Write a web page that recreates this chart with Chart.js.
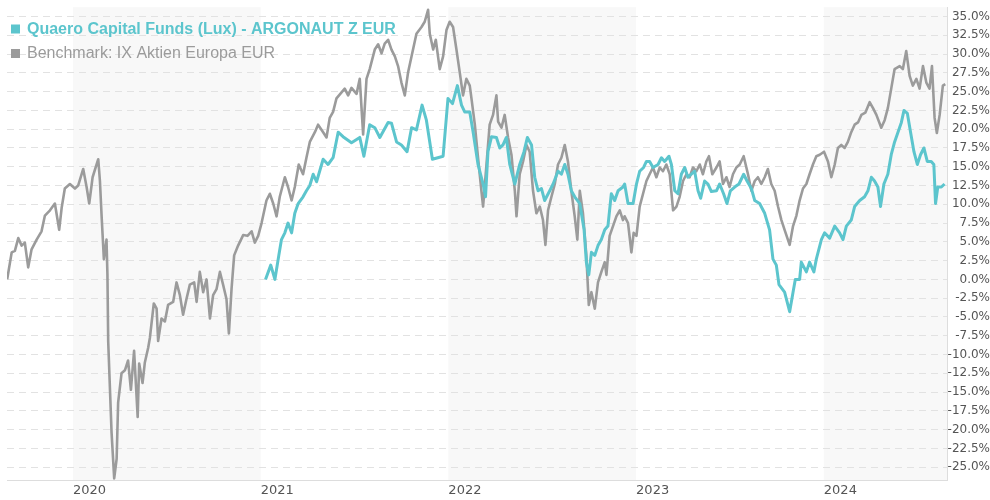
<!DOCTYPE html>
<html>
<head>
<meta charset="utf-8">
<script src="https://cdn.jsdelivr.net/npm/chart.js@4.4.1/dist/chart.umd.min.js"></script>
<style>
  html, body { margin: 0; padding: 0; background: #fff; }
  #wrap { width: 990px; height: 500px; }
</style>
</head>
<body>
<div id="wrap"><canvas id="grafico" width="990" height="500"></canvas></div>
<script>
// Benchmark: datas em anos decimais e retorno acumulado (%)
const benchDates = [
  2019.650, 2019.674, 2019.691, 2019.709, 2019.727, 2019.744, 2019.762, 2019.780, 2019.807, 2019.833,
  2019.851, 2019.878, 2019.904, 2019.927, 2019.940, 2019.957, 2019.984, 2020.011, 2020.028, 2020.055,
  2020.073, 2020.087, 2020.105, 2020.135, 2020.144, 2020.153, 2020.165, 2020.179, 2020.184, 2020.188,
  2020.206, 2020.220, 2020.233, 2020.241, 2020.259, 2020.277, 2020.294, 2020.309, 2020.326, 2020.345,
  2020.353, 2020.371, 2020.383, 2020.401, 2020.410, 2020.431, 2020.446, 2020.454, 2020.472, 2020.490,
  2020.507, 2020.534, 2020.552, 2020.570, 2020.587, 2020.605, 2020.623, 2020.646, 2020.659, 2020.676,
  2020.694, 2020.712, 2020.730, 2020.747, 2020.765, 2020.783, 2020.800, 2020.818, 2020.831, 2020.845,
  2020.859, 2020.880, 2020.907, 2020.930, 2020.952, 2020.969, 2020.987, 2021.005, 2021.031, 2021.049,
  2021.067, 2021.085, 2021.102, 2021.129, 2021.146, 2021.165, 2021.182, 2021.203, 2021.226, 2021.244,
  2021.262, 2021.289, 2021.306, 2021.333, 2021.351, 2021.368, 2021.386, 2021.404, 2021.431, 2021.448,
  2021.466, 2021.484, 2021.511, 2021.528, 2021.546, 2021.564, 2021.581, 2021.608, 2021.626, 2021.644,
  2021.661, 2021.679, 2021.697, 2021.715, 2021.732, 2021.750, 2021.768, 2021.785, 2021.804, 2021.830,
  2021.857, 2021.874, 2021.892, 2021.901, 2021.919, 2021.933, 2021.954, 2021.972, 2021.990, 2022.007,
  2022.025, 2022.043, 2022.061, 2022.078, 2022.096, 2022.114, 2022.123, 2022.141, 2022.158, 2022.176,
  2022.185, 2022.203, 2022.220, 2022.238, 2022.256, 2022.265, 2022.283, 2022.300, 2022.318, 2022.336,
  2022.354, 2022.363, 2022.380, 2022.398, 2022.416, 2022.433, 2022.451, 2022.469, 2022.487, 2022.504,
  2022.517, 2022.531, 2022.549, 2022.567, 2022.584, 2022.602, 2022.620, 2022.637, 2022.655, 2022.673,
  2022.687, 2022.700, 2022.717, 2022.735, 2022.748, 2022.762, 2022.780, 2022.797, 2022.815, 2022.833,
  2022.842, 2022.859, 2022.877, 2022.895, 2022.913, 2022.930, 2022.939, 2022.957, 2022.975, 2022.987,
  2023.002, 2023.019, 2023.037, 2023.055, 2023.072, 2023.090, 2023.108, 2023.126, 2023.143, 2023.161,
  2023.179, 2023.197, 2023.215, 2023.232, 2023.250, 2023.268, 2023.285, 2023.303, 2023.321, 2023.339,
  2023.356, 2023.374, 2023.388, 2023.406, 2023.428, 2023.445, 2023.463, 2023.481, 2023.498, 2023.516,
  2023.534, 2023.552, 2023.573, 2023.596, 2023.614, 2023.632, 2023.649, 2023.667, 2023.685, 2023.702,
  2023.720, 2023.738, 2023.756, 2023.774, 2023.791, 2023.818, 2023.836, 2023.854, 2023.871, 2023.889,
  2023.907, 2023.924, 2023.942, 2023.960, 2023.978, 2024.001, 2024.022, 2024.040, 2024.058, 2024.075,
  2024.093, 2024.111, 2024.128, 2024.146, 2024.164, 2024.182, 2024.200, 2024.221, 2024.244, 2024.262,
  2024.280, 2024.306, 2024.324, 2024.341, 2024.359, 2024.377, 2024.404, 2024.421, 2024.439, 2024.457,
  2024.474, 2024.493, 2024.510, 2024.528, 2024.546, 2024.563, 2024.576, 2024.590, 2024.602, 2024.617,
  2024.634, 2024.647
];
const benchValues = [
  0.0, 3.6, 3.8, 5.5, 4.5, 4.9, 1.6, 4.0, 5.3, 6.4,
  8.5, 9.2, 10.1, 6.6, 9.5, 12.1, 12.7, 12.1, 12.5, 14.7,
  12.3, 10.1, 13.6, 16.0, 13.1, 8.4, 2.7, 5.3, 0.6, -8.2,
  -20.4, -26.5, -23.9, -16.4, -12.5, -12.1, -10.8, -14.7, -9.5, -18.3,
  -11.2, -13.8, -11.1, -9.1, -7.8, -3.2, -3.9, -8.2, -5.2, -5.6,
  -3.4, -3.0, -0.4, -2.1, -4.7, -2.6, -0.7, -0.4, -3.0, 1.0,
  -1.7, 0.0, -5.2, -2.1, -1.3, 1.0, -0.7, -2.6, -7.2, -1.3,
  3.2, 4.5, 5.9, 5.8, 6.4, 4.9, 5.8, 7.5, 10.5, 11.4,
  10.1, 8.4, 11.0, 13.6, 12.3, 10.5, 12.3, 15.3, 14.0, 16.2,
  18.3, 19.6, 20.6, 19.6, 18.9, 21.5, 22.3, 24.1, 24.9, 25.4,
  24.5, 25.5, 24.7, 26.7, 19.3, 26.7, 28.0, 30.6, 31.3, 30.1,
  31.4, 31.9, 30.6, 29.7, 28.4, 26.2, 24.5, 27.5, 29.7, 32.7,
  33.6, 34.3, 35.9, 32.7, 30.6, 31.9, 28.0, 29.7, 33.2, 34.3,
  33.6, 30.6, 27.5, 24.5, 26.7, 25.8, 24.1, 20.6, 16.2, 11.8,
  9.7, 15.3, 20.6, 21.9, 24.5, 21.0, 20.2, 21.9, 18.9, 16.6,
  11.8, 8.4, 14.0, 15.7, 17.9, 17.0, 11.8, 8.8, 9.7, 7.9,
  4.6, 9.2, 11.0, 12.7, 15.3, 16.2, 17.9, 15.7, 11.8, 8.4,
  5.3, 11.8, 8.8, 3.2, -3.4, -1.7, -3.9, -0.4, 1.0, 2.3,
  0.6, 5.8, 7.1, 8.4, 9.2, 7.9, 8.4, 7.5, 3.6, 6.2,
  5.8, 9.7, 11.4, 13.1, 14.0, 14.9, 13.6, 14.9, 14.4, 15.3,
  14.0, 9.2, 9.7, 11.0, 13.1, 14.0, 13.6, 14.9, 14.4, 15.3,
  14.0, 15.7, 16.4, 14.0, 14.9, 15.7, 12.7, 13.6, 12.3, 14.0,
  14.9, 15.3, 16.4, 14.0, 11.8, 13.1, 13.6, 12.7, 13.6, 14.7,
  12.7, 11.8, 9.7, 7.9, 6.6, 4.6, 7.1, 8.5, 10.5, 12.1,
  12.7, 14.0, 15.3, 16.4, 16.6, 17.0, 15.7, 13.6, 15.3, 17.5,
  17.9, 17.5, 18.3, 19.6, 20.6, 20.9, 21.9, 22.2, 23.6, 22.8,
  21.9, 20.2, 21.2, 22.8, 25.4, 28.0, 28.4, 28.0, 30.4, 27.1,
  25.8, 26.7, 25.4, 28.4, 26.2, 25.4, 28.4, 21.5, 19.5, 21.9,
  25.8, 26.0
];

// Fundo: começa em janeiro de 2021
const fundDates = [
  2021.026, 2021.054, 2021.076, 2021.097, 2021.111, 2021.129, 2021.146, 2021.165, 2021.182, 2021.200,
  2021.226, 2021.244, 2021.262, 2021.280, 2021.298, 2021.333, 2021.359, 2021.386, 2021.413, 2021.439,
  2021.484, 2021.528, 2021.550, 2021.581, 2021.608, 2021.635, 2021.679, 2021.697, 2021.724, 2021.750,
  2021.780, 2021.804, 2021.830, 2021.860, 2021.883, 2021.915, 2021.972, 2021.998, 2022.022, 2022.048,
  2022.070, 2022.087, 2022.114, 2022.132, 2022.158, 2022.185, 2022.198, 2022.211, 2022.230, 2022.256,
  2022.274, 2022.291, 2022.309, 2022.327, 2022.354, 2022.380, 2022.403, 2022.421, 2022.443, 2022.460,
  2022.478, 2022.496, 2022.513, 2022.540, 2022.558, 2022.584, 2022.602, 2022.620, 2022.637, 2022.655,
  2022.673, 2022.700, 2022.723, 2022.735, 2022.748, 2022.762, 2022.780, 2022.797, 2022.815, 2022.833,
  2022.850, 2022.868, 2022.886, 2022.904, 2022.930, 2022.939, 2022.957, 2022.984, 2023.002, 2023.019,
  2023.040, 2023.055, 2023.072, 2023.090, 2023.117, 2023.135, 2023.152, 2023.175, 2023.188, 2023.206,
  2023.223, 2023.241, 2023.259, 2023.276, 2023.294, 2023.312, 2023.330, 2023.344, 2023.365, 2023.383,
  2023.401, 2023.428, 2023.445, 2023.466, 2023.484, 2023.502, 2023.525, 2023.548, 2023.573, 2023.591,
  2023.614, 2023.632, 2023.658, 2023.685, 2023.711, 2023.729, 2023.747, 2023.761, 2023.791, 2023.818,
  2023.836, 2023.848, 2023.871, 2023.880, 2023.907, 2023.924, 2023.947, 2023.960, 2023.987, 2024.004,
  2024.031, 2024.058, 2024.084, 2024.102, 2024.120, 2024.146, 2024.164, 2024.191, 2024.217, 2024.235,
  2024.253, 2024.270, 2024.288, 2024.302, 2024.320, 2024.341, 2024.359, 2024.377, 2024.395, 2024.413,
  2024.427, 2024.445, 2024.462, 2024.480, 2024.498, 2024.515, 2024.533, 2024.551, 2024.572, 2024.586,
  2024.595, 2024.607, 2024.626, 2024.643
];
const fundValues = [
  0.0, 1.9, 0.0, 3.2, 5.3, 6.2, 7.5, 6.2, 8.8, 10.1,
  11.0, 11.8, 12.5, 14.0, 13.0, 16.0, 15.3, 16.2, 19.6, 19.0,
  18.2, 18.9, 16.4, 20.6, 20.2, 18.9, 20.9, 20.8, 18.3, 17.9,
  17.0, 20.2, 19.9, 23.2, 21.2, 16.0, 16.4, 24.1, 23.4, 25.8,
  23.2, 22.3, 22.3, 19.6, 15.3, 12.7, 11.0, 17.0, 19.0, 18.9,
  17.5, 17.9, 18.9, 15.3, 12.7, 15.3, 17.0, 18.9, 17.9, 13.6,
  11.8, 12.1, 10.5, 11.8, 12.7, 14.4, 14.0, 15.3, 14.0, 11.8,
  11.0, 10.1, 6.6, 2.3, 0.6, 3.6, 3.2, 4.5, 5.3, 6.6,
  7.1, 11.4, 10.5, 11.8, 12.3, 12.7, 10.1, 10.1, 12.7, 14.4,
  14.9, 15.7, 15.7, 14.9, 15.3, 16.2, 15.7, 16.4, 15.3, 11.8,
  11.4, 14.0, 14.9, 13.6, 14.0, 14.4, 11.8, 10.8, 13.1, 12.7,
  11.7, 11.8, 12.7, 11.4, 10.1, 11.8, 12.3, 12.7, 14.0, 13.1,
  12.1, 10.5, 10.1, 8.8, 6.6, 2.7, 1.9, -0.7, -1.7, -4.3,
  -1.7, 0.0, 0.0, 2.3, 1.0, 2.3, 1.0, 2.7, 5.3, 6.2,
  5.5, 7.1, 6.2, 5.3, 7.1, 7.9, 9.7, 10.5, 11.0, 11.8,
  13.6, 13.1, 12.3, 9.7, 12.7, 14.0, 16.6, 18.3, 19.6, 20.9,
  22.5, 22.1, 19.6, 17.0, 15.3, 16.6, 17.5, 15.7, 15.7, 15.3,
  10.1, 12.3, 12.3, 12.7
];

const xMin = 2019.649;
const xMax = 2024.659;
const yMin = -26.76;
const yMax = 36.24;
const yearTicks = [2020, 2021, 2022, 2023, 2024];
const shadedYears = [2020, 2022, 2024];
const yTicks = [-25, -22.5, -20, -17.5, -15, -12.5, -10, -7.5, -5, -2.5, 0, 2.5, 5, 7.5, 10, 12.5, 15, 17.5, 20, 22.5, 25, 27.5, 30, 32.5, 35];

const corFundo = "#5cc5cd";
const corBench = "#9b9b9b";

function pares(datas, valores) {
    return datas.map((d, i) => ({ x: d, y: valores[i] }));
}

// faixas cinzentas nos anos alternados
const faixasAnos = {
    id: "faixasAnos",
    beforeDraw(chart) {
        const { ctx, chartArea, scales } = chart;
        ctx.save();
        ctx.fillStyle = "#f8f8f8";
        shadedYears.forEach((ano) => {
            const x1 = Math.max(scales.x.getPixelForValue(ano), chartArea.left);
            const x2 = Math.min(scales.x.getPixelForValue(ano + 1), chartArea.right);
            if (x2 > x1) ctx.fillRect(x1, chartArea.top, x2 - x1, chartArea.bottom - chartArea.top);
        });
        ctx.restore();
    },
};

// legenda em duas linhas, por baixo das linhas do gráfico
const legendaLinhas = {
    id: "legendaLinhas",
    beforeDatasetsDraw(chart) {
        const ctx = chart.ctx;
        ctx.save();
        chart.data.datasets.forEach((ds, i) => {
            const base = 33.5 + i * 24.5;
            ctx.fillStyle = ds.borderColor;
            ctx.fillRect(11, base - 9, 9, 9);
            ctx.font = (i === 0 ? "bold " : "") + "16px 'Liberation Sans', Arial, sans-serif";
            ctx.textBaseline = "alphabetic";
            ctx.textAlign = "left";
            ctx.fillText(ds.label, 27, base);
        });
        ctx.restore();
    },
};

new Chart(document.getElementById("grafico").getContext("2d"), {
    type: "line",
    data: {
        datasets: [
            {
                label: "Quaero Capital Funds (Lux) - ARGONAUT Z EUR",
                data: pares(fundDates, fundValues),
                borderColor: corFundo,
                borderWidth: 3,
                borderJoinStyle: "round",
                pointRadius: 0,
                tension: 0,
                fill: false,
            },
            {
                label: "Benchmark: IX Aktien Europa EUR",
                data: pares(benchDates, benchValues),
                borderColor: corBench,
                borderWidth: 2.6,
                borderJoinStyle: "round",
                pointRadius: 0,
                tension: 0,
                fill: false,
            },
        ],
    },
    options: {
        responsive: false,
        animation: false,
        layout: { padding: { left: 7, right: 0, top: 0, bottom: 0 } },
        plugins: {
            legend: { display: false },
            tooltip: { enabled: false },
        },
        scales: {
            x: {
                type: "linear",
                min: xMin,
                max: xMax,
                afterBuildTicks: (axis) => {
                    axis.ticks = yearTicks.map((v) => ({ value: v }));
                },
                grid: { display: false, drawTicks: false },
                border: { display: true, color: "#dddddd" },
                ticks: {
                    autoSkip: false,
                    maxRotation: 0,
                    align: "start",
                    padding: 2,
                    color: "#555555",
                    font: { family: "'DejaVu Sans', Verdana, sans-serif", size: 13 },
                    callback: (v) => String(v),
                },
            },
            y: {
                position: "right",
                min: yMin,
                max: yMax,
                afterBuildTicks: (axis) => {
                    axis.ticks = yTicks.map((v) => ({ value: v }));
                },
                grid: { color: "#e2e2e2", lineWidth: 1, drawTicks: false },
                border: { display: true, color: "#dddddd", dash: [7, 5] },
                ticks: {
                    padding: 0,
                    crossAlign: "far",
                    color: "#555555",
                    font: { family: "'DejaVu Sans', Verdana, sans-serif", size: 12 },
                    callback: (v) => v.toFixed(1) + "%",
                },
            },
        },
    },
    plugins: [faixasAnos, legendaLinhas],
});
</script>
</body>
</html>
